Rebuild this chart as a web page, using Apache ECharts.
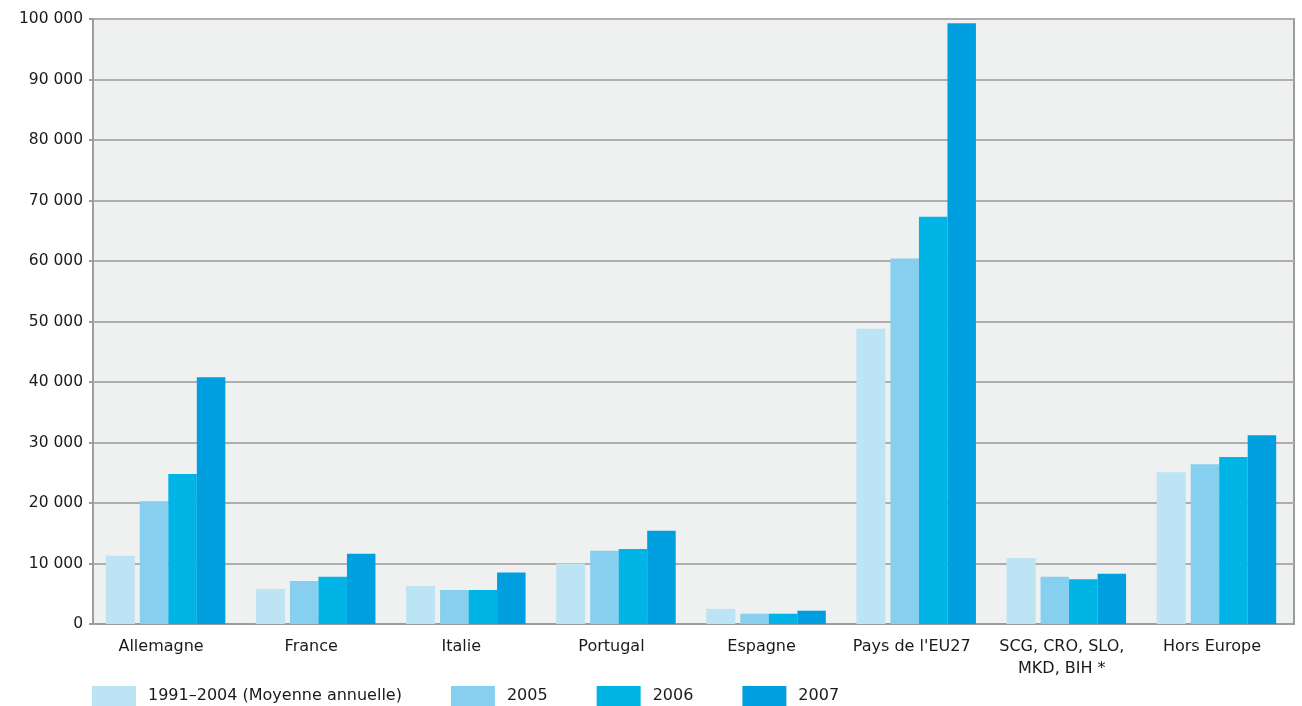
<!DOCTYPE html>
<html>
<head>
<meta charset="utf-8">
<script src="https://cdn.jsdelivr.net/npm/echarts@6/dist/echarts.min.js"></script>
<style>
  html, body { margin: 0; padding: 0; background: #ffffff; }
  #chart { width: 1302px; height: 706px; }
</style>
</head>
<body>
<div id="chart"></div>
<script>
const categories = ['Allemagne', 'France', 'Italie', 'Portugal', 'Espagne', "Pays de l'EU27", 'SCG, CRO, SLO,\nMKD, BIH *', 'Hors Europe'];
const seriesNames = ['1991–2004 (Moyenne annuelle)', '2005', '2006', '2007'];
const avg19912004 = [11300, 5800, 6300, 10000, 2500, 48800, 10900, 25100];
const values2005 = [20300, 7100, 5600, 12100, 1700, 60400, 7800, 26400];
const values2006 = [24800, 7800, 5600, 12400, 1700, 67300, 7400, 27600];
const values2007 = [40800, 11600, 8500, 15400, 2200, 99300, 8300, 31200];
const yTicks = { min: 0, max: 100000, interval: 10000 };

const colors = ['#bde4f5', '#87cfef', '#00b4e6', '#009fe0'];
const font = '"DejaVu Sans", "Noto Sans", sans-serif';
const ink = '#1a1a1a';

const chart = echarts.init(document.getElementById('chart'), null, { renderer: 'canvas' });

// Empty slots used only to space the bars inside each category group
const spacer = (id) => ({
  name: id, type: 'bar', barWidth: 5, silent: true,
  data: categories.map(() => '-'),
  itemStyle: { color: 'transparent' }
});

const bar = (i, data) => ({
  name: seriesNames[i], type: 'bar', data: data,
  barWidth: i === 0 ? 29 : 28.5,
  barGap: '0%',
  itemStyle: { color: colors[i] },
  emphasis: { disabled: true }
});

const fmt = (v) => String(v).replace(/\B(?=(\d{3})+(?!\d))/g, ' ');

chart.setOption({
  animation: false,
  textStyle: { fontFamily: font },
  grid: {
    left: 93, right: 8, top: 19, bottom: 82,
    show: true, backgroundColor: '#eff0f0',
    borderColor: '#9d9d9d', borderWidth: 2
  },
  legend: {
    data: seriesNames,
    left: 92, bottom: 0, padding: 0,
    itemWidth: 44, itemHeight: 20, itemGap: 49,
    icon: 'rect',
    textStyle: { fontFamily: font, fontSize: 16, color: ink, padding: [0, 0, 0, 7] }
  },
  xAxis: {
    type: 'category', data: categories,
    axisLine: { lineStyle: { color: '#9d9d9d', width: 2 } },
    axisTick: { show: false },
    axisLabel: { fontFamily: font, fontSize: 16, color: ink, margin: 12, lineHeight: 22, interval: 0, padding: [0, 14, 0, 0] },
    splitLine: { show: false }
  },
  yAxis: {
    type: 'value', min: yTicks.min, max: yTicks.max, interval: yTicks.interval,
    axisLine: { show: true, lineStyle: { color: '#9d9d9d', width: 2 } },
    axisTick: { show: true, length: 4, lineStyle: { color: '#9d9d9d', width: 2 } },
    axisLabel: { fontFamily: font, fontSize: 15.5, color: ink, margin: 10, formatter: fmt },
    splitLine: { lineStyle: { color: '#aeaeae', width: 2 } }
  },
  series: [
    bar(0, avg19912004),
    spacer('gapA'),
    bar(1, values2005),
    bar(2, values2006),
    bar(3, values2007),
    spacer('gapB')
  ]
});
</script>
</body>
</html>
